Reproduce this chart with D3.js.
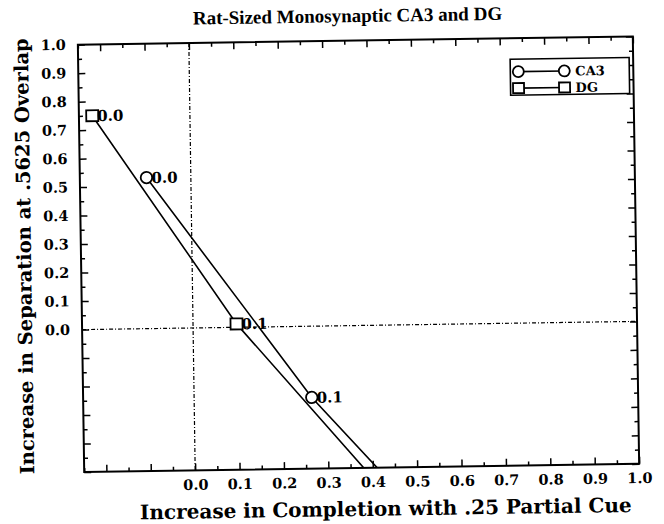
<!DOCTYPE html>
<html>
<head>
<meta charset="utf-8">
<script src="https://cdn.jsdelivr.net/npm/d3@7"></script>
<style>
  body { margin: 0; background: #fff; }
  svg { display: block; }
  text { font-family: "DejaVu Serif", serif; font-weight: bold; fill: #000; }
  text.times { font-family: "Liberation Serif", "Times New Roman", serif; }
</style>
</head>
<body>
<svg id="chart" width="664" height="524"></svg>
<script>
// Valeurs (le troisième point de chaque série sort du cadre)
var seriesNames = ["CA3", "DG"];
var pointLabels = ["0.0", "0.1", "0.2"];
var ca3X = [-0.10, 0.265, 0.70];
var ca3Y = [0.53, -0.25, -1.0];
var dgX = [-0.22, 0.098, 0.655];
var dgY = [0.75, 0.012, -1.0];
var xTickLabels = ["0.0", "0.1", "0.2", "0.3", "0.4", "0.5", "0.6", "0.7", "0.8", "0.9", "1.0"];
var yTickLabels = ["0.0", "0.1", "0.2", "0.3", "0.4", "0.5", "0.6", "0.7", "0.8", "0.9", "1.0"];

var title = "Rat-Sized Monosynaptic CA3 and DG";
var xTitle = "Increase in Completion with .25 Partial Cue";
var yTitle = "Increase in Separation at .5625 Overlap";

var plot = { left: 81, top: 40.5, right: 636, bottom: 468 };

var x = d3.scaleLinear().domain([-0.25, 1.0]).range([plot.left, plot.right]);
var y = d3.scaleLinear().domain([-0.5, 1.0]).range([plot.bottom, plot.top]);

var series = [
    { name: seriesNames[0], shape: "circle", points: ca3X.map((v, i) => ({ x: v, y: ca3Y[i], label: pointLabels[i] })) },
    { name: seriesNames[1], shape: "square", points: dgX.map((v, i) => ({ x: v, y: dgY[i], label: pointLabels[i] })) }
];

var svg = d3.select("#chart");
// la page scannée est légèrement tournée
var g = svg.append("g").attr("transform", "rotate(-0.85, 358.5, 254)");

g.append("clipPath").attr("id", "plotClip")
    .append("rect")
    .attr("x", plot.left).attr("y", plot.top)
    .attr("width", plot.right - plot.left).attr("height", plot.bottom - plot.top);

// Graduations: majeures tous les 0.1, mineures tous les 0.05
var xMajor = d3.range(-2, 11).map(d => d / 10);
var xMinor = d3.range(-5, 20, 2).map(d => d / 20);
var yMajor = d3.range(-5, 11).map(d => d / 10);
var yMinor = d3.range(-9, 20, 2).map(d => d / 20);

function fmt(labels) {
    return d => {
        var s = d3.format(".1f")(d);
        return labels.indexOf(s) >= 0 && d >= 0 ? s : "";
    };
}

function addAxis(axis, transform) {
    var a = g.append("g").attr("transform", transform).call(axis);
    a.select(".domain").remove();
    a.selectAll("line").attr("stroke", "#000").attr("stroke-width", 1.5);
    a.attr("font-family", null).attr("font-size", null);
    a.selectAll("text").style("font-size", "14.5px");
    return a;
}

// gauche / bas avec étiquettes
addAxis(d3.axisLeft(y).tickValues(yMajor).tickSizeInner(-7).tickSizeOuter(0).tickPadding(12).tickFormat(fmt(yTickLabels)),
    "translate(" + plot.left + ",0)");
addAxis(d3.axisLeft(y).tickValues(yMinor).tickSizeInner(-4).tickSizeOuter(0).tickFormat(""),
    "translate(" + plot.left + ",0)");
addAxis(d3.axisBottom(x).tickValues(xMajor).tickSizeInner(-7).tickSizeOuter(0).tickPadding(9).tickFormat(fmt(xTickLabels)),
    "translate(0," + plot.bottom + ")");
addAxis(d3.axisBottom(x).tickValues(xMinor).tickSizeInner(-4).tickSizeOuter(0).tickFormat(""),
    "translate(0," + plot.bottom + ")");
// droite / haut sans étiquettes
addAxis(d3.axisRight(y).tickValues(yMajor).tickSizeInner(-7).tickSizeOuter(0).tickFormat(""),
    "translate(" + plot.right + ",0)");
addAxis(d3.axisRight(y).tickValues(yMinor).tickSizeInner(-4).tickSizeOuter(0).tickFormat(""),
    "translate(" + plot.right + ",0)");
addAxis(d3.axisTop(x).tickValues(xMajor).tickSizeInner(-7).tickSizeOuter(0).tickFormat(""),
    "translate(0," + plot.top + ")");
addAxis(d3.axisTop(x).tickValues(xMinor).tickSizeInner(-4).tickSizeOuter(0).tickFormat(""),
    "translate(0," + plot.top + ")");

// cadre
g.append("rect")
    .attr("x", plot.left).attr("y", plot.top)
    .attr("width", plot.right - plot.left).attr("height", plot.bottom - plot.top)
    .attr("fill", "none").attr("stroke", "#000").attr("stroke-width", 2);

// lignes pointillées à zéro
g.append("line")
    .attr("x1", x(0)).attr("x2", x(0)).attr("y1", plot.top).attr("y2", plot.bottom)
    .attr("stroke", "#000").attr("stroke-width", 1.2).attr("stroke-dasharray", "4,2,1,2");
g.append("line")
    .attr("x1", plot.left).attr("x2", plot.right).attr("y1", y(0)).attr("y2", y(0))
    .attr("stroke", "#000").attr("stroke-width", 1.2).attr("stroke-dasharray", "4,2,1,2");

var line = d3.line().x(d => x(d.x)).y(d => y(d.y));
var inner = g.append("g").attr("clip-path", "url(#plotClip)");

function drawMarker(sel, shape, cx, cy, size) {
    if (shape == "circle") {
        sel.append("circle").attr("cx", cx).attr("cy", cy).attr("r", size / 2)
            .attr("fill", "#fff").attr("stroke", "#000").attr("stroke-width", 1.8);
    } else {
        sel.append("rect").attr("x", cx - size / 2).attr("y", cy - (size - 1) / 2)
            .attr("width", size).attr("height", size - 1)
            .attr("fill", "#fff").attr("stroke", "#000").attr("stroke-width", 1.8);
    }
}

function inside(p) {
    return p.x >= x.domain()[0] && p.x <= x.domain()[1] && p.y >= y.domain()[0] && p.y <= y.domain()[1];
}

series.forEach(s => {
    inner.append("path").datum(s.points)
        .attr("d", line)
        .attr("fill", "none").attr("stroke", "#000").attr("stroke-width", 1.6);
    // les points hors du cadre ne portent ni symbole ni étiquette
    s.points.filter(inside).forEach(p => {
        drawMarker(inner, s.shape, x(p.x), y(p.y), s.shape == "circle" ? 11.5 : 12);
        inner.append("text")
            .attr("x", x(p.x) + 5).attr("y", y(p.y)).attr("dy", "0.36em")
            .attr("font-size", 15)
            .text(p.label);
    });
});

// légende
var legend = { left: plot.right - 123, top: plot.top + 21, width: 119, height: 36 };
var lg = g.append("g");
lg.append("rect")
    .attr("x", legend.left).attr("y", legend.top)
    .attr("width", legend.width).attr("height", legend.height)
    .attr("fill", "#fff").attr("stroke", "#000").attr("stroke-width", 1.6);
series.forEach((s, i) => {
    var ry = legend.top + 12.5 + i * 16.5;
    lg.append("line")
        .attr("x1", legend.left + 8).attr("x2", legend.left + 54)
        .attr("y1", ry).attr("y2", ry)
        .attr("stroke", "#000").attr("stroke-width", 1.6);
    drawMarker(lg, s.shape, legend.left + 8, ry, 11);
    drawMarker(lg, s.shape, legend.left + 54, ry, 11);
    lg.append("text")
        .attr("x", legend.left + 65).attr("y", ry).attr("dy", "0.36em")
        .attr("font-size", 13)
        .text(s.name);
});

// titres
g.append("text")
    .attr("class", "times")
    .attr("x", 351).attr("y", 22)
    .attr("text-anchor", "middle").attr("font-size", 19)
    .text(title);
g.append("text")
    .attr("x", 382).attr("y", 516)
    .attr("text-anchor", "middle").attr("font-size", 20)
    .text(xTitle);
g.append("text")
    .attr("transform", "translate(31,251.5) rotate(-90)")
    .attr("text-anchor", "middle").attr("font-size", 19.5)
    .text(yTitle);
</script>
</body>
</html>
